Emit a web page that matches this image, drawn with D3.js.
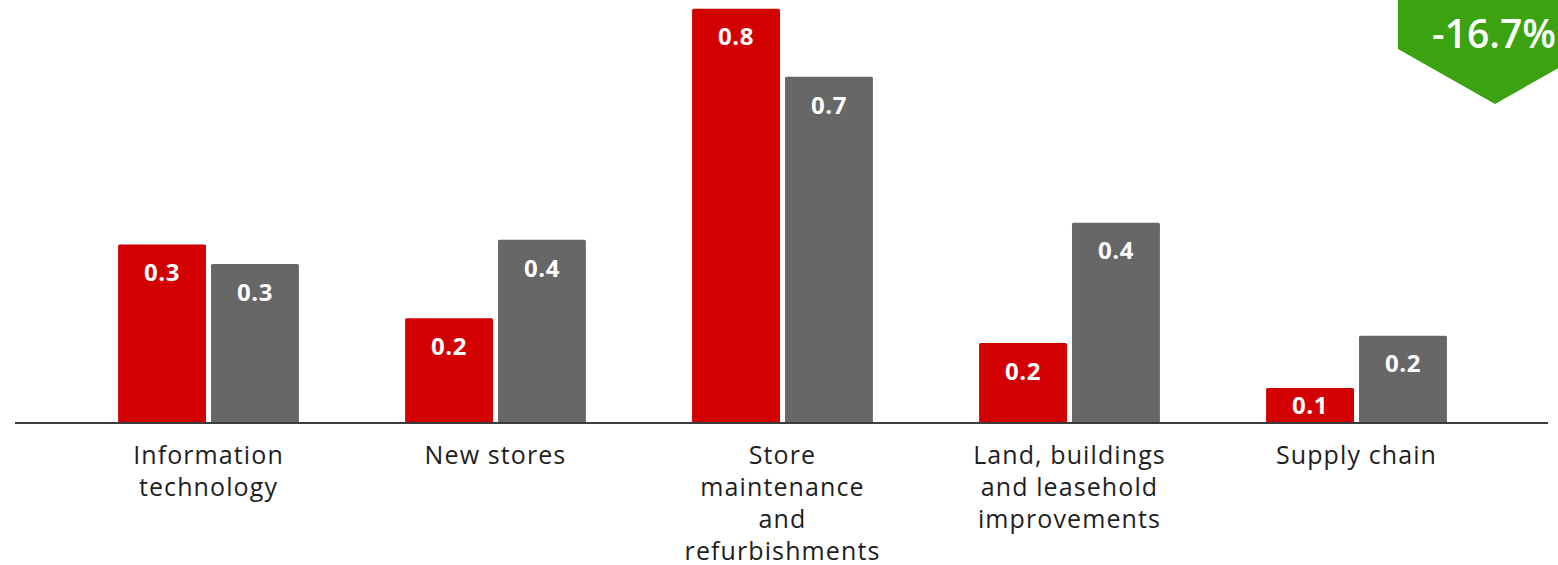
<!DOCTYPE html>
<html>
<head>
<meta charset="utf-8">
<script src="https://cdn.jsdelivr.net/npm/d3@7"></script>
<style>
  html, body { margin: 0; padding: 0; background: #ffffff; }
  svg { display: block; }
</style>
</head>
<body>
<svg id="chart" width="1558" height="565"></svg>
<script>
// Capital expenditure by category (£bn), current year vs prior year
const categories = [
  ["Information", "technology"],
  ["New stores"],
  ["Store", "maintenance", "and", "refurbishments"],
  ["Land, buildings", "and leasehold", "improvements"],
  ["Supply chain"]
];
const seriesKeys = ["current", "prior"];
const currentValues = [0.346, 0.203, 0.803, 0.155, 0.068];
const priorValues   = [0.308, 0.355, 0.671, 0.388, 0.169];

const colors = { current: "#d20000", prior: "#676767" };

const W = 1558, H = 565;
const baseY = 423;

const svg = d3.select("#chart");

const rows = categories.map((c, i) => ({
  idx: i,
  label: c,
  current: currentValues[i],
  prior: priorValues[i]
}));

const x0 = d3.scaleBand()
  .domain(rows.map(d => d.idx))
  .range([65, 1500])
  .paddingInner(0.37)
  .paddingOuter(0.185);

const x1 = d3.scaleBand()
  .domain(seriesKeys)
  .range([0, x0.bandwidth()])
  .paddingInner(0.054);

const y = d3.scaleLinear()
  .domain([0, 0.82])
  .range([baseY, 0]);

// plain hyphen for negatives
const locale = d3.formatLocale({ decimal: ".", thousands: ",", grouping: [3], currency: ["", ""], minus: "-" });
const fmt = locale.format(".1f");

// bars
const groups = svg.append("g")
  .selectAll("g")
  .data(rows)
  .join("g")
  .attr("transform", d => `translate(${x0(d.idx)},0)`);

const bars = groups.selectAll("g.bar")
  .data(d => seriesKeys.map(k => ({ key: k, value: d[k] })))
  .join("g")
  .attr("class", "bar");

bars.append("rect")
  .attr("x", d => x1(d.key))
  .attr("y", d => y(d.value))
  .attr("width", x1.bandwidth())
  .attr("height", d => y(0) - y(d.value))
  .attr("rx", 1.5)
  .attr("fill", d => colors[d.key]);

bars.append("text")
  .attr("x", d => x1(d.key) + x1.bandwidth() / 2)
  .attr("y", d => Math.min(y(d.value) + 28, (y(d.value) + y(0)) / 2))
  .attr("dy", "0.36em")
  .attr("text-anchor", "middle")
  .attr("fill", "#ffffff")
  .attr("font-family", "'Open Sans', sans-serif")
  .attr("font-weight", 700)
  .attr("font-size", 24)
  .attr("letter-spacing", 0.6)
  .text(d => fmt(d.value));

// baseline axis
const xAxis = d3.axisBottom(x0).tickSize(0).tickFormat("");
const axisG = svg.append("g")
  .attr("transform", `translate(0,${baseY})`)
  .call(xAxis);
axisG.select(".domain")
  .attr("d", `M15,0H1548`)
  .attr("stroke", "#3c3c3c")
  .attr("stroke-width", 2);

// category labels
const labels = svg.append("g")
  .selectAll("text")
  .data(rows)
  .join("text")
  .attr("x", d => x0(d.idx) + x0.bandwidth() / 2)
  .attr("y", 464)
  .attr("text-anchor", "middle")
  .attr("fill", "#1e1e1e")
  .attr("font-family", "'Open Sans', sans-serif")
  .attr("font-size", 25)
  .attr("letter-spacing", 1.1);

labels.selectAll("tspan")
  .data(d => d.label.map((t, i) => ({ t, i, cx: x0(d.idx) + x0.bandwidth() / 2 })))
  .join("tspan")
  .attr("x", d => d.cx)
  .attr("dy", d => d.i === 0 ? 0 : 32)
  .text(d => d.t);

// change badge
const totalCurrent = d3.sum(currentValues);
const totalPrior = d3.sum(priorValues);
const change = (totalCurrent / totalPrior - 1) * 100;

const badge = svg.append("g");
badge.append("path")
  .attr("d", "M1398,-2H1592V49L1495,104L1398,49Z")
  .attr("fill", "#3ba310");
badge.append("text")
  .attr("x", 1494)
  .attr("y", 48)
  .attr("text-anchor", "middle")
  .attr("fill", "#ffffff")
  .attr("font-family", "'Open Sans', sans-serif")
  .attr("font-weight", 600)
  .attr("font-size", 39)
  .text(fmt(change) + "%");
</script>
</body>
</html>
